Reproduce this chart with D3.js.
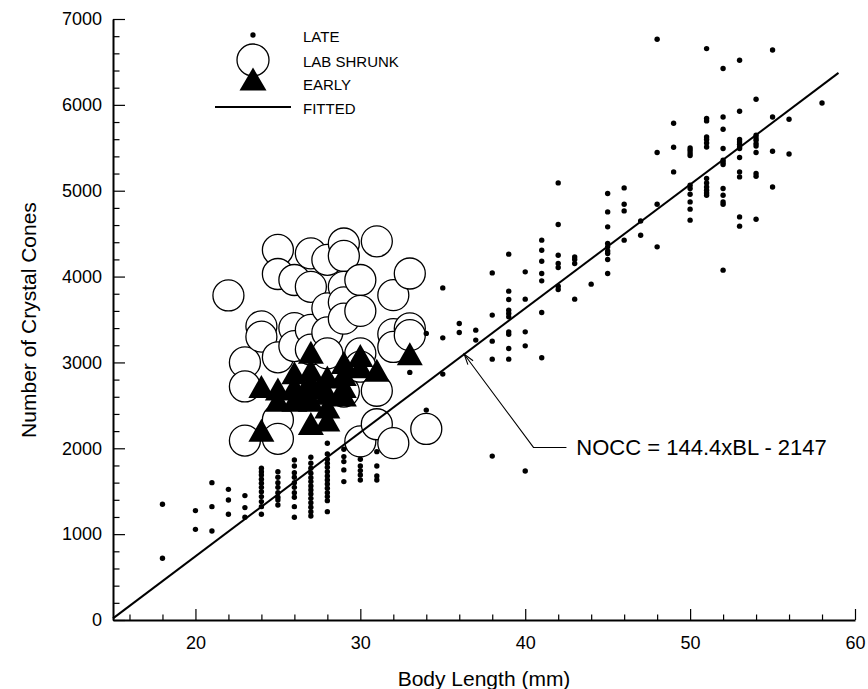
<!DOCTYPE html>
<html lang="en">
<head>
<meta charset="UTF-8">
<title>Crystal cones vs body length</title>
<style>
body{margin:0;background:#fff}
text{font-family:"Liberation Sans",Arial,sans-serif;fill:#000}
</style>
</head>
<body>
<svg id="chart" width="868" height="689"></svg>
<script src="https://cdn.jsdelivr.net/npm/d3@7"></script>
<script>
// late specimens: [body length, [crystal cone counts]]
var late=[
 [18,[1348,720]],[20,[1274,1056]],[21,[1600,1320,1037]],[22,[1522,1398,1231]],[23,[1449,1309,1196]],
 [24,[1767,1728,1689,1639,1592,1545,1495,1437,1379,1320,1231]],
 [25,[1728,1662,1600,1545,1483,1429,1398,1340]],
 [26,[1864,1794,1716,1662,1600,1545,1483,1429,1320,1196]],
 [27,[1895,1825,1767,1709,1658,1612,1561,1515,1468,1417,1367,1313,1262,1212]],
 [28,[2058,1934,1872,1825,1779,1728,1678,1631,1584,1534,1483,1437,1390,1262]],
 [29,[1988,1903,1845,1748,1612]],[30,[1872,1794,1740,1689,1631]],[31,[1961,1794,1678,1631]],
 [33,[2884]],[34,[3338,2445]],[35,[3868,3286,2864]],[36,[3454,3349]],[37,[3376,3260]],
 [38,[4043,3551,3248,3038,1909]],
 [39,[4261,3830,3733,3609,3570,3531,3356,3329,3163,3038]],
 [40,[4055,3737,3356,3193,1735]],
 [41,[4424,4307,4179,4036,3950,3582,3054]],
 [42,[5091,4607,4249,4153,4106,3888,3850]],
 [43,[4229,4199,4153,3737]],[44,[3912]],
 [45,[4967,4753,4579,4385,4346,4299,4269,4199,4036]],
 [46,[5033,4843,4765,4424]],[47,[4648,4482]],[48,[6764,5445,4843,4346]],[49,[5786,5506,5219]],
 [50,[5498,5471,5440,5410,5064,5026,4959,4870,4785,4657]],
 [51,[6655,5841,5813,5626,5596,5557,5510,5142,5091,5044,5006,4974,4948]],
 [52,[6423,5859,5716,5491,5355,5328,5305,5026,4948,4870,4843,4075]],
 [53,[6519,5925,5596,5568,5541,5510,5491,5386,5219,5161,4695,4587]],
 [54,[6065,5646,5615,5588,5549,5521,5445,5200,5169,4668]],
 [55,[6639,5859,5460,5044]],[56,[5832,5428]],[58,[6022]]
]
// lab shrunk specimens
var labShrunk=[
 [22,[3780]],[23,[3000,2720,2090]],[24,[3420,3300]],[25,[4310,4030,3060,2330,2110]],
 [26,[3960,3400,3190]],[27,[4270,3880,3380,3150]],[28,[4195,3630,3350,3105]],
 [29,[4385,4240,3880,3700,3510,2660]],[30,[3960,3600,3105,2950,2080]],
 [31,[4410,2670,2280]],[32,[3783,3330,3180,2060]],[33,[4036,3396,3318]],[34,[2225]]
]
// early specimens
var early=[
 [24,[2210,2720]],[25,[2560,2690]],[26,[2560,2720,2880]],[26.5,[2640]],
 [27,[2290,2560,2760,2910,3120]],[27.5,[2700]],[28,[2330,2480,2640,2830]],
 [29,[2620,2720,2860,3000]],[30,[2950,3080]],[31,[2910]],[33,[3100]]
]
var fit={slope:144.4,intercept:-2147,from:15,to:59}
var xMajor=[20,30,40,50,60],xMinor=d3.range(16,60,2).filter(v=>v%10)
var yMajor=d3.range(0,7001,1000),yMinor=d3.range(200,7000,200).filter(v=>v%1000)

var svg=d3.select('#chart')
var x=d3.scaleLinear().domain([15,60]).range([113,855])
var y=d3.scaleLinear().domain([0,7000]).range([620,19])
var flat=arr=>arr.flatMap(d=>d[1].map(v=>({bl:d[0],n:v})))

// circles
svg.append('g').selectAll('circle').data(flat(labShrunk)).join('circle')
 .attr('cx',d=>x(d.bl)).attr('cy',d=>y(d.n)).attr('r',15.5)
 .attr('fill','#fff').attr('stroke','#000').attr('stroke-width',1.3)

var tri=(w,h)=>`M0,${-h/2}L${w/2},${h/2}L${-w/2},${h/2}Z`
svg.append('g').selectAll('path').data(flat(early)).join('path')
 .attr('transform',d=>`translate(${x(d.bl)},${y(d.n)})`).attr('d',tri(26,23)).attr('fill','#000')

svg.append('g').selectAll('circle').data(flat(late)).join('circle')
 .attr('cx',d=>x(d.bl)).attr('cy',d=>y(d.n)).attr('r',2.7).attr('fill','#000')

var line=d3.line().x(d=>x(d)).y(d=>y(fit.slope*d+fit.intercept))
svg.append('path').datum([fit.from,fit.to]).attr('d',line)
 .attr('fill','none').attr('stroke','#000').attr('stroke-width',2)

// axes
var xAxis=svg.append('g').attr('transform','translate(0,620)')
 .call(d3.axisBottom(x).tickValues(xMajor).tickSize(-11).tickSizeOuter(0).tickPadding(16).tickFormat(d3.format('d')))
xAxis.append('g').call(d3.axisBottom(x).tickValues(xMinor).tickSize(-5.5).tickFormat(''))
 .select('.domain').remove()
var yAxis=svg.append('g').attr('transform','translate(113,0)')
 .call(d3.axisLeft(y).tickValues(yMajor).tickSize(-12).tickSizeOuter(0).tickPadding(11).tickFormat(d3.format('d')))
yAxis.append('g').call(d3.axisLeft(y).tickValues(yMinor).tickSize(-6.5).tickFormat(''))
 .select('.domain').remove()
svg.selectAll('.domain').attr('stroke-width',2)
svg.selectAll('.tick line').attr('stroke-width',1.2)
svg.selectAll('.tick text').attr('font-size',18).attr('font-family','"Liberation Sans",Arial,sans-serif')

svg.append('text').attr('x',484).attr('y',686).attr('text-anchor','middle').attr('font-size',21)
 .text('Body Length (mm)')
svg.append('text').attr('transform','translate(36,320) rotate(-90)').attr('text-anchor','middle')
 .attr('font-size',21).text('Number of Crystal Cones')

// legend
var lg=svg.append('g'),lx=253
lg.append('circle').attr('cx',lx).attr('cy',35).attr('r',2.7)
lg.append('circle').attr('cx',lx).attr('cy',60).attr('r',16).attr('fill','#fff').attr('stroke','#000').attr('stroke-width',1.3)
lg.append('path').attr('transform',`translate(${lx},79)`).attr('d',tri(27,23))
lg.append('line').attr('x1',215).attr('x2',291).attr('y1',107).attr('y2',107).attr('stroke','#000').attr('stroke-width',2)
var labels=['LATE','LAB SHRUNK','EARLY','FITTED'],ly=[37,62,85,109]
lg.selectAll('text').data(labels).join('text').attr('x',303).attr('y',(d,i)=>ly[i]).attr('dy','.36em')
 .attr('font-size',15).text(d=>d)

// annotation with leader arrow
var tipBL=36.3,tip=[x(tipBL),y(fit.slope*tipBL+fit.intercept)],elbow=[x(40.5),y(2010)],end=[x(42.5),y(2010)]
svg.append('path').attr('d',`M${tip}L${elbow}L${end}`).attr('fill','none').attr('stroke','#000').attr('stroke-width',1.1)
var ang=Math.atan2(elbow[1]-tip[1],elbow[0]-tip[0])
var ah=a=>[tip[0]+11*Math.cos(ang+a),tip[1]+11*Math.sin(ang+a)]
svg.append('path').attr('d',`M${ah(0.3)}L${tip}L${ah(-0.3)}`).attr('fill','none').attr('stroke','#000').attr('stroke-width',1.1)
svg.append('text').attr('x',x(43.1)).attr('y',y(2010)).attr('dy','.36em').attr('font-size',22)
 .text('NOCC = 144.4xBL - 2147')
</script>
</body>
</html>
